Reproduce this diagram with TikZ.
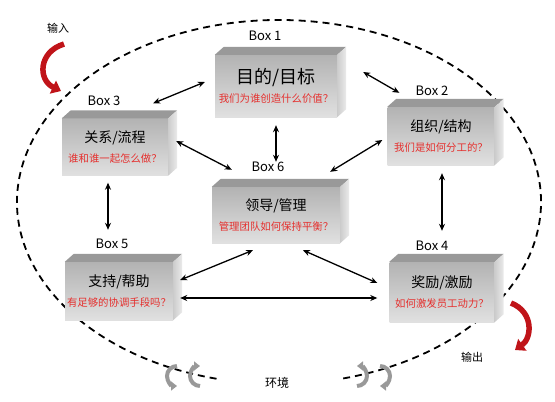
\documentclass[tikz,border=0pt]{standalone}
\usepackage{fontspec}
\setmainfont{Noto Sans CJK SC}
\usetikzlibrary{arrows.meta}
\definecolor{rojo}{HTML}{E5302E}
\definecolor{rojoosc}{HTML}{C01419}

\begin{document}
\begin{tikzpicture}[x=1pt,y=-1pt,
        caja/.style={inner sep=0pt, align=center, top color=black!30, bottom color=black!12},
        titulo/.style={font=\fontsize{13}{15}\selectfont},
        flecha/.style={{Stealth[length=7pt,width=6pt]}-{Stealth[length=7pt,width=6pt]}, line width=1.3pt},
        elipse/.style={dashed, dash pattern=on 7pt off 5pt, line width=1.8pt},
        curva/.style={line width=5.5pt, rojoosc, -{Triangle[length=9pt,width=14pt]}},
        giro/.style={line width=4pt, black!40, -{Triangle[length=6pt,width=9pt]}}]
    \useasboundingbox (0,0) rectangle (555,402);
    \draw[elipse] (279,202) ++(103.8:262 and 182) arc[start angle=103.8, end angle=436.5, x radius=262, y radius=182];
    % cajas
    \node[caja, minimum width=122pt, minimum height=62pt] (c1) at (276,86)
        {{\fontsize{18}{20}\selectfont 目的/目标}\\[7pt]{\color{rojo}\fontsize{10.4}{12}\selectfont 我们为谁创造什么价值？}};
    \node[caja, minimum width=107pt, minimum height=58pt] (c2) at (441,136)
        {{\fontsize{14}{16}\selectfont 组织/结构}\\[8pt]{\color{rojo}\fontsize{10.4}{12}\selectfont 我们是如何分工的？}};
    \node[caja, minimum width=106pt, minimum height=57pt] (c3) at (115,147)
        {{\fontsize{14}{16}\selectfont 关系/流程}\\[8pt]{\color{rojo}\fontsize{10.4}{12}\selectfont 谁和谁一起怎么做？}};
    \node[caja, minimum width=105pt, minimum height=60pt] (c4) at (442,292)
        {{\fontsize{14}{16}\selectfont 奖励/激励}\\[8pt]{\color{rojo}\fontsize{10.4}{12}\selectfont 如何激发员工动力？}};
    \node[caja, minimum width=108pt, minimum height=58pt] (c5) at (119,291)
        {{\fontsize{14}{16}\selectfont 支持/帮助}\\[8pt]{\color{rojo}\fontsize{10.4}{12}\selectfont 有足够的协调手段吗？}};
    \node[caja, minimum width=128pt, minimum height=56pt] (c6) at (276,215)
        {{\fontsize{14}{16}\selectfont 领导/管理}\\[8pt]{\color{rojo}\fontsize{10.4}{12}\selectfont 管理团队如何保持平衡？}};
    \foreach \c in {c1,c2,c3,c4,c5,c6} {
        \fill[black!40] (\c.north west) -- ++(9,-8) -- ([shift={(9,-8)}]\c.north east) -- (\c.north east) -- cycle;
        \shade[left color=black!20, right color=black!8] (\c.north east) -- ++(9,-8) -- ([shift={(9,-8)}]\c.south east) -- (\c.south east) -- cycle;
    }
    % etiquetas
    \node[titulo] (t1) at (265,36) {Box 1};
    \node[titulo] (t2) at (432,91) {Box 2};
    \node[titulo] (t3) at (104,101) {Box 3};
    \node[titulo] (t4) at (432,246) {Box 4};
    \node[titulo] (t5) at (112,244) {Box 5};
    \node[titulo] (t6) at (268,167) {Box 6};
    % flechas
    \draw[flecha] ([shift={(-10,-4)}]c1.west) -- ([shift={(-15,-15)}]c3.north east);
    \draw[flecha] ([shift={(26,-14)}]c1.east) -- ([shift={(12,-14)}]c2.north west);
    \draw[flecha] ([shift={(0,8)}]c1.south) -- ([shift={(0,-25)}]c6.north);
    \draw[flecha] ([shift={(8,-6)}]c3.east) -- ([shift={(20,-17)}]c6.north west);
    \draw[flecha] ([shift={(-5,4)}]c2.west) -- ([shift={(-10,-15)}]c6.north east);
    \draw[flecha] ([shift={(-7,7)}]c3.south) -- ([shift={(-11,-32)}]c5.north);
    \draw[flecha] ([shift={(1,8)}]c2.south) -- ([shift={(0,-31)}]c4.north);
    \draw[flecha] ([shift={(-23,7)}]c6.south) -- ([shift={(7,-11)}]c5.east);
    \draw[flecha] ([shift={(27,7)}]c6.south) -- ([shift={(-12,-9)}]c4.west);
    \draw[flecha] ([shift={(7,7)}]c5.east) -- ([shift={(-12,6)}]c4.west);
    % entrada y salida
    \node[font=\fontsize{11}{13}\selectfont] (in) at (58,28) {输入};
    \node[font=\fontsize{11}{13}\selectfont] (out) at (472,357) {输出};
    \draw[curva] (64,44) .. controls (38,52) and (38,80) .. (61,91);
    \draw[curva] (511,303) .. controls (534,312) and (532,338) .. (515,350);
    % entorno
    \node[font=\fontsize{12}{14}\selectfont, fill=white, inner sep=2pt] (env) at (277,383) {环境};
    \draw[giro] (177,366) arc[start angle=270, end angle=90, radius=10];
    \draw[giro] (200,386) arc[start angle=90, end angle=270, radius=10];
    \draw[giro] (357,386) arc[start angle=90, end angle=-90, radius=10];
    \draw[giro] (380,366) arc[start angle=-90, end angle=90, radius=10];
\end{tikzpicture}
\end{document}
